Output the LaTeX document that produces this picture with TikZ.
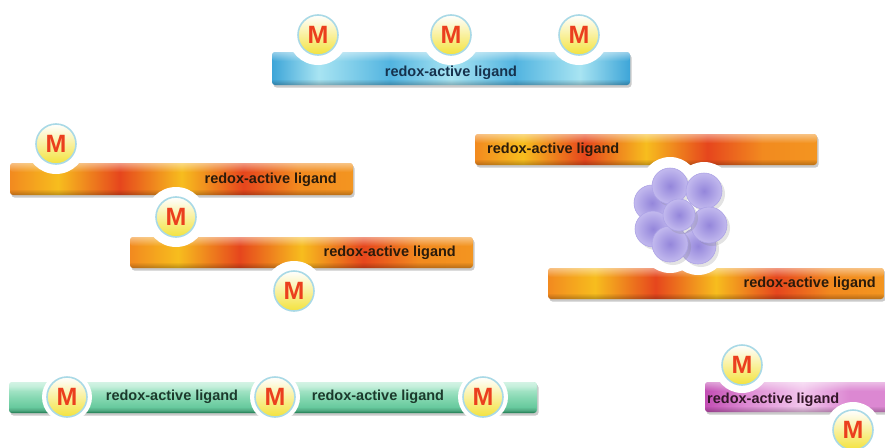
\documentclass[tikz,border=0pt]{standalone}
\usepackage{fontspec}
\setmainfont{Liberation Sans}
\usetikzlibrary{fadings}

% palette
\definecolor{orA}{HTML}{F28A1F}
\definecolor{orY}{HTML}{F7BD1E}
\definecolor{orR}{HTML}{E6461D}
\definecolor{orB}{HTML}{F39520}
\definecolor{blD}{HTML}{3DA5D8}
\definecolor{blL}{HTML}{A8E4F2}
\definecolor{blM}{HTML}{52B4E0}
\definecolor{grT}{HTML}{B2EAD0}
\definecolor{grM}{HTML}{86D8B2}
\definecolor{grB}{HTML}{5CC496}
\definecolor{grE}{HTML}{24A066}
\definecolor{pkD}{HTML}{C24DB3}
\definecolor{pkL}{HTML}{F2C6EC}
\definecolor{pkM}{HTML}{DC88D2}
\definecolor{spIn}{HTML}{9486DB}
\definecolor{spOut}{HTML}{C2B9EE}
\definecolor{spRim}{HTML}{ADA3E6}
\definecolor{mRed}{HTML}{EB3F1E}
\definecolor{mRing}{HTML}{A9D9E6}
\definecolor{mYel}{HTML}{F3E23C}
\definecolor{mPale}{HTML}{FBF6CC}
\definecolor{txBlue}{HTML}{16324D}
\definecolor{txOr}{HTML}{2A1B0B}
\definecolor{txGr}{HTML}{1C3A2C}
\definecolor{txPk}{HTML}{331628}

% bar shadings (visible band is 25bp..75bp)
\pgfdeclarehorizontalshading{orangebar}{100bp}{color(0bp)=(orA); color(25bp)=(orA);
  color(32bp)=(orY); color(41bp)=(orR); color(50bp)=(orY); color(59bp)=(orR);
  color(67bp)=(orA); color(75bp)=(orB); color(100bp)=(orB)}
\pgfdeclarehorizontalshading{bluebar}{100bp}{color(0bp)=(blD); color(25bp)=(blD);
  color(31.5bp)=(blL); color(41.5bp)=(blM); color(50bp)=(blL); color(59bp)=(blM);
  color(68bp)=(blL); color(75bp)=(blD); color(100bp)=(blD)}
\pgfdeclarehorizontalshading{pinkbar}{100bp}{color(0bp)=(pkD); color(25bp)=(pkD);
  color(35bp)=(pkM); color(50bp)=(pkL); color(62bp)=(pkM); color(75bp)=(pkM); color(100bp)=(pkM)}
\pgfdeclareverticalshading{greenbar}{100bp}{color(0bp)=(grE); color(25bp)=(grE);
  color(29bp)=(grB); color(50bp)=(grM); color(68bp)=(grT); color(75bp)=(grT); color(100bp)=(grT)}

\tikzfading[name=topglow, top color=transparent!0, bottom color=transparent!100]
\tikzfading[name=bottomdim, top color=transparent!100, bottom color=transparent!0]

\tikzset{
  barshadow/.style={fill=black!60, fill opacity=0.35, rounded corners=3pt},
  lbl/.style={font=\fontsize{14.5}{15}\selectfont\bfseries, inner sep=0pt},
  halo/.style={fill=white},
  metal/.style={circle, minimum size=40pt, inner sep=0pt, line width=1.6pt, draw=mRing,
    top color=white, middle color=mPale, bottom color=mYel, text=mRed,
    font=\fontsize{25}{25}\selectfont\bfseries},
  sphere/.style={circle, minimum size=36pt, inner sep=0pt, inner color=spIn, outer color=spOut,
    draw=spRim, line width=0.6pt},
  sphereshade/.style={fill=black!50, fill opacity=0.22}
}

% one ligand strip: x1, y1, x2, y2, shading
\newcommand\ligandbar[5]{%
  \fill[barshadow] (#1+1.5,#2+2.5) rectangle (#3+1.5,#4+2.5);
  \shade[shading=#5, rounded corners=3pt] (#1,#2) rectangle (#3,#4);
  \fill[white, fill opacity=0.45, path fading=topglow, rounded corners=3pt] (#1,#2) rectangle (#3,#2+9);
  \fill[black, fill opacity=0.25, path fading=bottomdim, rounded corners=3pt] (#1,#4-6) rectangle (#3,#4);
}

\begin{document}
\begin{tikzpicture}[x=1pt,y=-1pt]
\useasboundingbox (0,0) rectangle (885,447);

% ---------- strips ----------
\ligandbar{272}{52}{630}{85}{bluebar}
\ligandbar{10}{163}{353}{195}{orangebar}
\ligandbar{130}{237}{473}{268}{orangebar}
\ligandbar{475}{134}{817}{165}{orangebar}
\ligandbar{548}{268}{884}{299}{orangebar}
\ligandbar{9}{382}{537}{413}{greenbar}
\ligandbar{705}{382}{900}{412}{pinkbar}

% ---------- metal sites ----------
\coordinate (b1) at (318,35);
\coordinate (b2) at (451,35);
\coordinate (b3) at (579,35);
\coordinate (o1) at (56,144);
\coordinate (o2) at (176,217);
\coordinate (o3) at (294,291);
\coordinate (g1) at (67,397);
\coordinate (g2) at (275,397);
\coordinate (g3) at (483,397);
\coordinate (p1) at (742,365);
\coordinate (p2) at (853,430);

% cluster atoms
\coordinate (s1) at (652,203);
\coordinate (s2) at (653,229);
\coordinate (s3) at (698,246);
\coordinate (s4) at (670,186);
\coordinate (s5) at (704,191);
\coordinate (s6) at (670,244);
\coordinate (s7) at (709,225);
\coordinate (s8) at (679,215);

% white halos
\foreach \c in {b1,b2,b3,o1,o2,o3} \fill[halo] (\c) circle (30);
\foreach \c in {g1,g2,g3} \fill[halo] (\c) circle (25);
\foreach \c in {p1,p2} \fill[halo] (\c) circle (28);
\foreach \c in {s1,s2,s3,s4,s5,s6,s7} \fill[halo] (\c) circle (29);

% cluster of spheres, back to front
\foreach \c in {s1,s2,s3,s4,s5,s6,s7} {
  \fill[sphereshade] ([shift={(3,3)}]\c) circle (18);
  \node[sphere] (n\c) at (\c) {};
}
\fill[sphereshade] ([shift={(3,3)}]s8) circle (16);
\node[sphere, minimum size=32pt] (ns8) at (s8) {};

% metal centres
\foreach \c in {b1,b2,b3,o1,o2,o3,g1,g2,g3,p1,p2}
  \node[metal] (m\c) at (\c) {M};

% ---------- labels ----------
\node[lbl, text=txBlue] (tb) at (451,73) {redox-active ligand};
\node[lbl, text=txOr, anchor=east] (to1) at (337,180) {redox-active ligand};
\node[lbl, text=txOr, anchor=east] (to2) at (456,253) {redox-active ligand};
\node[lbl, text=txOr, anchor=west] (to3) at (487,150) {redox-active ligand};
\node[lbl, text=txOr, anchor=east] (to4) at (876,284) {redox-active ligand};
\node[lbl, text=txGr] (tg1) at (172,397) {redox-active ligand};
\node[lbl, text=txGr] (tg2) at (378,397) {redox-active ligand};
\node[lbl, text=txPk, anchor=west] (tp) at (707,400) {redox-active ligand};
\end{tikzpicture}
\end{document}
